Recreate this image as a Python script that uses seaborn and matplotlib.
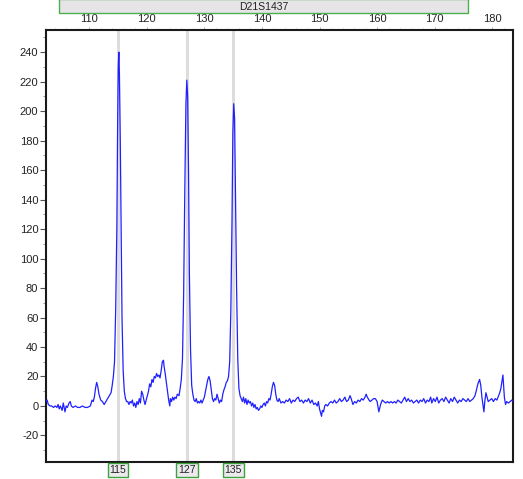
import numpy as np
import pandas as pd
import matplotlib
matplotlib.use("Agg")
import matplotlib.pyplot as plt
import matplotlib.transforms as mtransforms
from matplotlib.patches import Rectangle
from matplotlib.ticker import MultipleLocator
import seaborn as sns

# Marker / allele calls
marker_name = "D21S1437"
allele_calls = [115, 127, 135]

# Axis ticks
x_ticks = [110, 120, 130, 140, 150, 160, 170, 180]
y_ticks = [-20, 0, 20, 40, 60, 80, 100, 120, 140, 160, 180, 200, 220, 240]

# Trace: fragment size (bp) and signal (RFU)
size_bp = [
    102.5, 102.7, 102.9, 103.2, 103.5, 103.8, 104.1, 104.4, 104.6, 104.8,
    105.0, 105.3, 105.5, 105.8, 106.0, 106.2, 106.5, 106.7, 106.9, 107.2,
    107.6, 108.0, 108.4, 108.8, 109.3, 109.7, 110.2, 110.5, 110.7, 110.9,
    111.1, 111.3, 111.5, 111.7, 112.0, 112.3, 112.6, 112.9, 113.2, 113.5,
    113.8, 114.0, 114.2, 114.4, 114.6, 114.8, 114.95, 115.05, 115.15, 115.25,
    115.4, 115.55, 115.7, 115.9, 116.1, 116.3, 116.5, 116.7, 116.9, 117.1,
    117.3, 117.5, 117.7, 117.9, 118.1, 118.3, 118.5, 118.7, 118.9, 119.1,
    119.3, 119.5, 119.7, 119.9, 120.1, 120.3, 120.5, 120.7, 120.9, 121.1,
    121.3, 121.5, 121.7, 121.9, 122.1, 122.3, 122.5, 122.7, 122.9, 123.0,
    123.2, 123.4, 123.6, 123.8, 124.0, 124.1, 124.3, 124.5, 124.7, 124.9,
    125.1, 125.3, 125.6, 125.8, 126.0, 126.2, 126.4, 126.6, 126.8, 126.95,
    127.1, 127.25, 127.4, 127.6, 127.8, 128.0, 128.2, 128.4, 128.6, 128.8,
    129.0, 129.2, 129.4, 129.6, 129.8, 130.0, 130.2, 130.4, 130.6, 130.8,
    131.0, 131.2, 131.4, 131.6, 131.8, 132.0, 132.2, 132.4, 132.6, 132.8,
    133.0, 133.2, 133.4, 133.6, 133.8, 134.0, 134.2, 134.4, 134.6, 134.8,
    134.95, 135.1, 135.25, 135.4, 135.6, 135.8, 136.0, 136.2, 136.4, 136.6,
    136.8, 137.0, 137.2, 137.4, 137.6, 137.8, 138.0, 138.2, 138.4, 138.6,
    138.8, 139.0, 139.2, 139.4, 139.6, 139.8, 140.0, 140.2, 140.4, 140.6,
    140.8, 141.0, 141.2, 141.4, 141.6, 141.8, 142.0, 142.2, 142.4, 142.6,
    142.8, 143.0, 143.3, 143.6, 143.9, 144.2, 144.5, 144.8, 145.1, 145.4,
    145.7, 146.0, 146.3, 146.6, 146.9, 147.2, 147.5, 147.8, 148.1, 148.4,
    148.7, 149.0, 149.3, 149.6, 149.8, 150.0, 150.2, 150.35, 150.5, 150.7,
    150.9, 151.1, 151.4, 151.7, 152.0, 152.3, 152.6, 152.9, 153.2, 153.5,
    153.8, 154.1, 154.4, 154.7, 155.0, 155.3, 155.5, 155.8, 156.1, 156.4,
    156.7, 157.0, 157.3, 157.6, 157.9, 158.1, 158.3, 158.6, 158.8, 159.1,
    159.4, 159.7, 160.0, 160.3, 160.6, 160.9, 161.2, 161.5, 161.8, 162.1,
    162.4, 162.7, 163.0, 163.3, 163.6, 163.9, 164.2, 164.5, 164.8, 165.1,
    165.4, 165.7, 166.0, 166.3, 166.6, 166.9, 167.2, 167.5, 167.8, 168.1,
    168.4, 168.7, 169.0, 169.3, 169.5, 169.8, 170.1, 170.4, 170.7, 171.0,
    171.3, 171.6, 171.9, 172.2, 172.5, 172.8, 173.1, 173.4, 173.7, 174.0,
    174.3, 174.6, 174.9, 175.2, 175.5, 175.8, 176.1, 176.4, 176.7, 177.0,
    177.2, 177.5, 177.8, 178.0, 178.2, 178.4, 178.55, 178.7, 178.9, 179.1,
    179.3, 179.6, 179.9, 180.2, 180.5, 180.8, 181.1, 181.3, 181.5, 181.7,
    181.85, 182.0, 182.1, 182.3, 182.5, 182.8, 183.1, 183.4, 183.6,
]
rfu = [
    3, 4, 1, 0, 0, -1, 0, -1, 1, -2,
    0, -3, 2, -4, 0, -1, 2, 3, 0, -1,
    0, -1, -1, 0, -1, -1, 0, 4, 3, 6,
    12, 16, 13, 8, 4, 3, 1, 3, 5, 7,
    9, 14, 20, 30, 65, 120, 195, 230, 240, 225,
    180, 120, 60, 24, 10, 5, 3, 3, 1, 3,
    2, 4, 0, 2, -1, 3, 1, 5, 2, 10,
    8, 4, 1, 4, 7, 10, 15, 13, 18, 16,
    20, 19, 22, 20, 21, 19, 24, 30, 31, 27,
    22, 16, 10, 4, 0, 5, 3, 6, 4, 6,
    5, 8, 7, 12, 18, 32, 75, 145, 205, 221,
    210, 160, 90, 38, 14, 8, 4, 3, 5, 2,
    3, 2, 4, 2, 4, 6, 10, 14, 18, 20,
    17, 11, 5, 3, 5, 4, 8, 5, 2, 4,
    3, 8, 11, 13, 16, 17, 20, 30, 65, 125,
    185, 205, 195, 145, 80, 32, 12, 7, 5, 3,
    6, 2, 5, 1, 4, 2, 3, 0, 2, -1,
    1, -2, -1, -3, -2, 0, -1, 1, 2, 0,
    3, 2, 5, 4, 8, 13, 16, 14, 8, 4,
    3, 5, 2, 3, 2, 4, 3, 5, 2, 4,
    3, 5, 6, 3, 4, 2, 4, 3, 5, 2,
    4, 1, 2, 0, 3, -2, -5, -7, -3, -4,
    0, 1, 0, 2, 3, 2, 4, 2, 3, 5,
    3, 4, 6, 3, 4, 7, 5, 1, 3, 2,
    4, 3, 5, 4, 6, 8, 6, 4, 3, 4,
    5, 5, 3, -4, 1, 4, 3, 2, 3, 2,
    3, 2, 3, 2, 4, 3, 2, 4, 6, 3,
    5, 3, 4, 2, 3, 4, 2, 4, 3, 5,
    2, 4, 3, 6, 2, 5, 3, 6, 2, 4,
    5, 3, 6, 4, 2, 5, 3, 6, 4, 2,
    4, 3, 5, 4, 3, 5, 3, 4, 5, 7,
    10, 15, 18, 14, 6, 0, -4, 3, 9, 6,
    3, 4, 5, 3, 5, 4, 7, 9, 12, 17,
    21, 12, 6, 1, 3, 2, 3, 4, 3,
]

trace = pd.DataFrame({"size": size_bp, "rfu": rfu})

sns.set_style("ticks")
plt.rcParams["font.family"] = ["Liberation Sans", "DejaVu Sans"]
plt.rcParams["axes.unicode_minus"] = False

fig = plt.figure(figsize=(5.23, 4.79), dpi=100)
ax = fig.add_axes([46 / 523, 1 - 462 / 479, 467 / 523, 432 / 479])

# Allele marker lines behind the trace
for a in allele_calls:
    ax.axvline(a, color="#dedcdc", linewidth=2.2, zorder=1)

sns.lineplot(data=trace, x="size", y="rfu", ax=ax, color="#2020ff",
             linewidth=0.9, estimator=None, sort=False, zorder=3)

ax.set_xlim(102.5, 183.6)
ax.set_ylim(-38, 255)
ax.set_xlabel("")
ax.set_ylabel("")

# size axis on top
ax.xaxis.tick_top()
ax.set_xticks(x_ticks)
ax.xaxis.set_minor_locator(MultipleLocator(2))
ax.set_yticks(y_ticks)
ax.yaxis.set_minor_locator(MultipleLocator(10))
ax.tick_params(axis="y", which="major", labelsize=8, length=4,
               width=0.8, colors="#555555", labelcolor="#222222", pad=1.5)
ax.tick_params(axis="y", which="minor", length=2, width=0.6,
               colors="#888888")
ax.tick_params(axis="x", which="major", labelsize=8, length=2,
               width=0.7, colors="#aaaaaa", labelcolor="#222222", pad=2)
ax.tick_params(axis="x", which="minor", length=1.5, width=0.6,
               colors="#bbbbbb")

for side in ax.spines.values():
    side.set_linewidth(1.5)
    side.set_color("#1a1a1a")

# allele call boxes under the frame
trans = mtransforms.blended_transform_factory(ax.transData, ax.transAxes)
for a in allele_calls:
    ax.text(a, -0.019, str(a), transform=trans, ha="center", va="center",
            fontsize=7.5, color="#222222", clip_on=False,
            bbox=dict(boxstyle="square,pad=0.18", fc="#eceaee",
                      ec="#3da13d", lw=1.0))

# marker name band at the top
fig.patches.append(Rectangle((59 / 523, 1 - 13 / 479), 409 / 523, 14 / 479,
                             transform=fig.transFigure, facecolor="#e7e4e7",
                             edgecolor="#4caf50", linewidth=1.0))
fig.text(263.5 / 523, 1 - 6.5 / 479, marker_name, ha="center", va="center",
         fontsize=7.5, color="#222222")

fig.savefig("out.png", dpi=100, facecolor="white")
